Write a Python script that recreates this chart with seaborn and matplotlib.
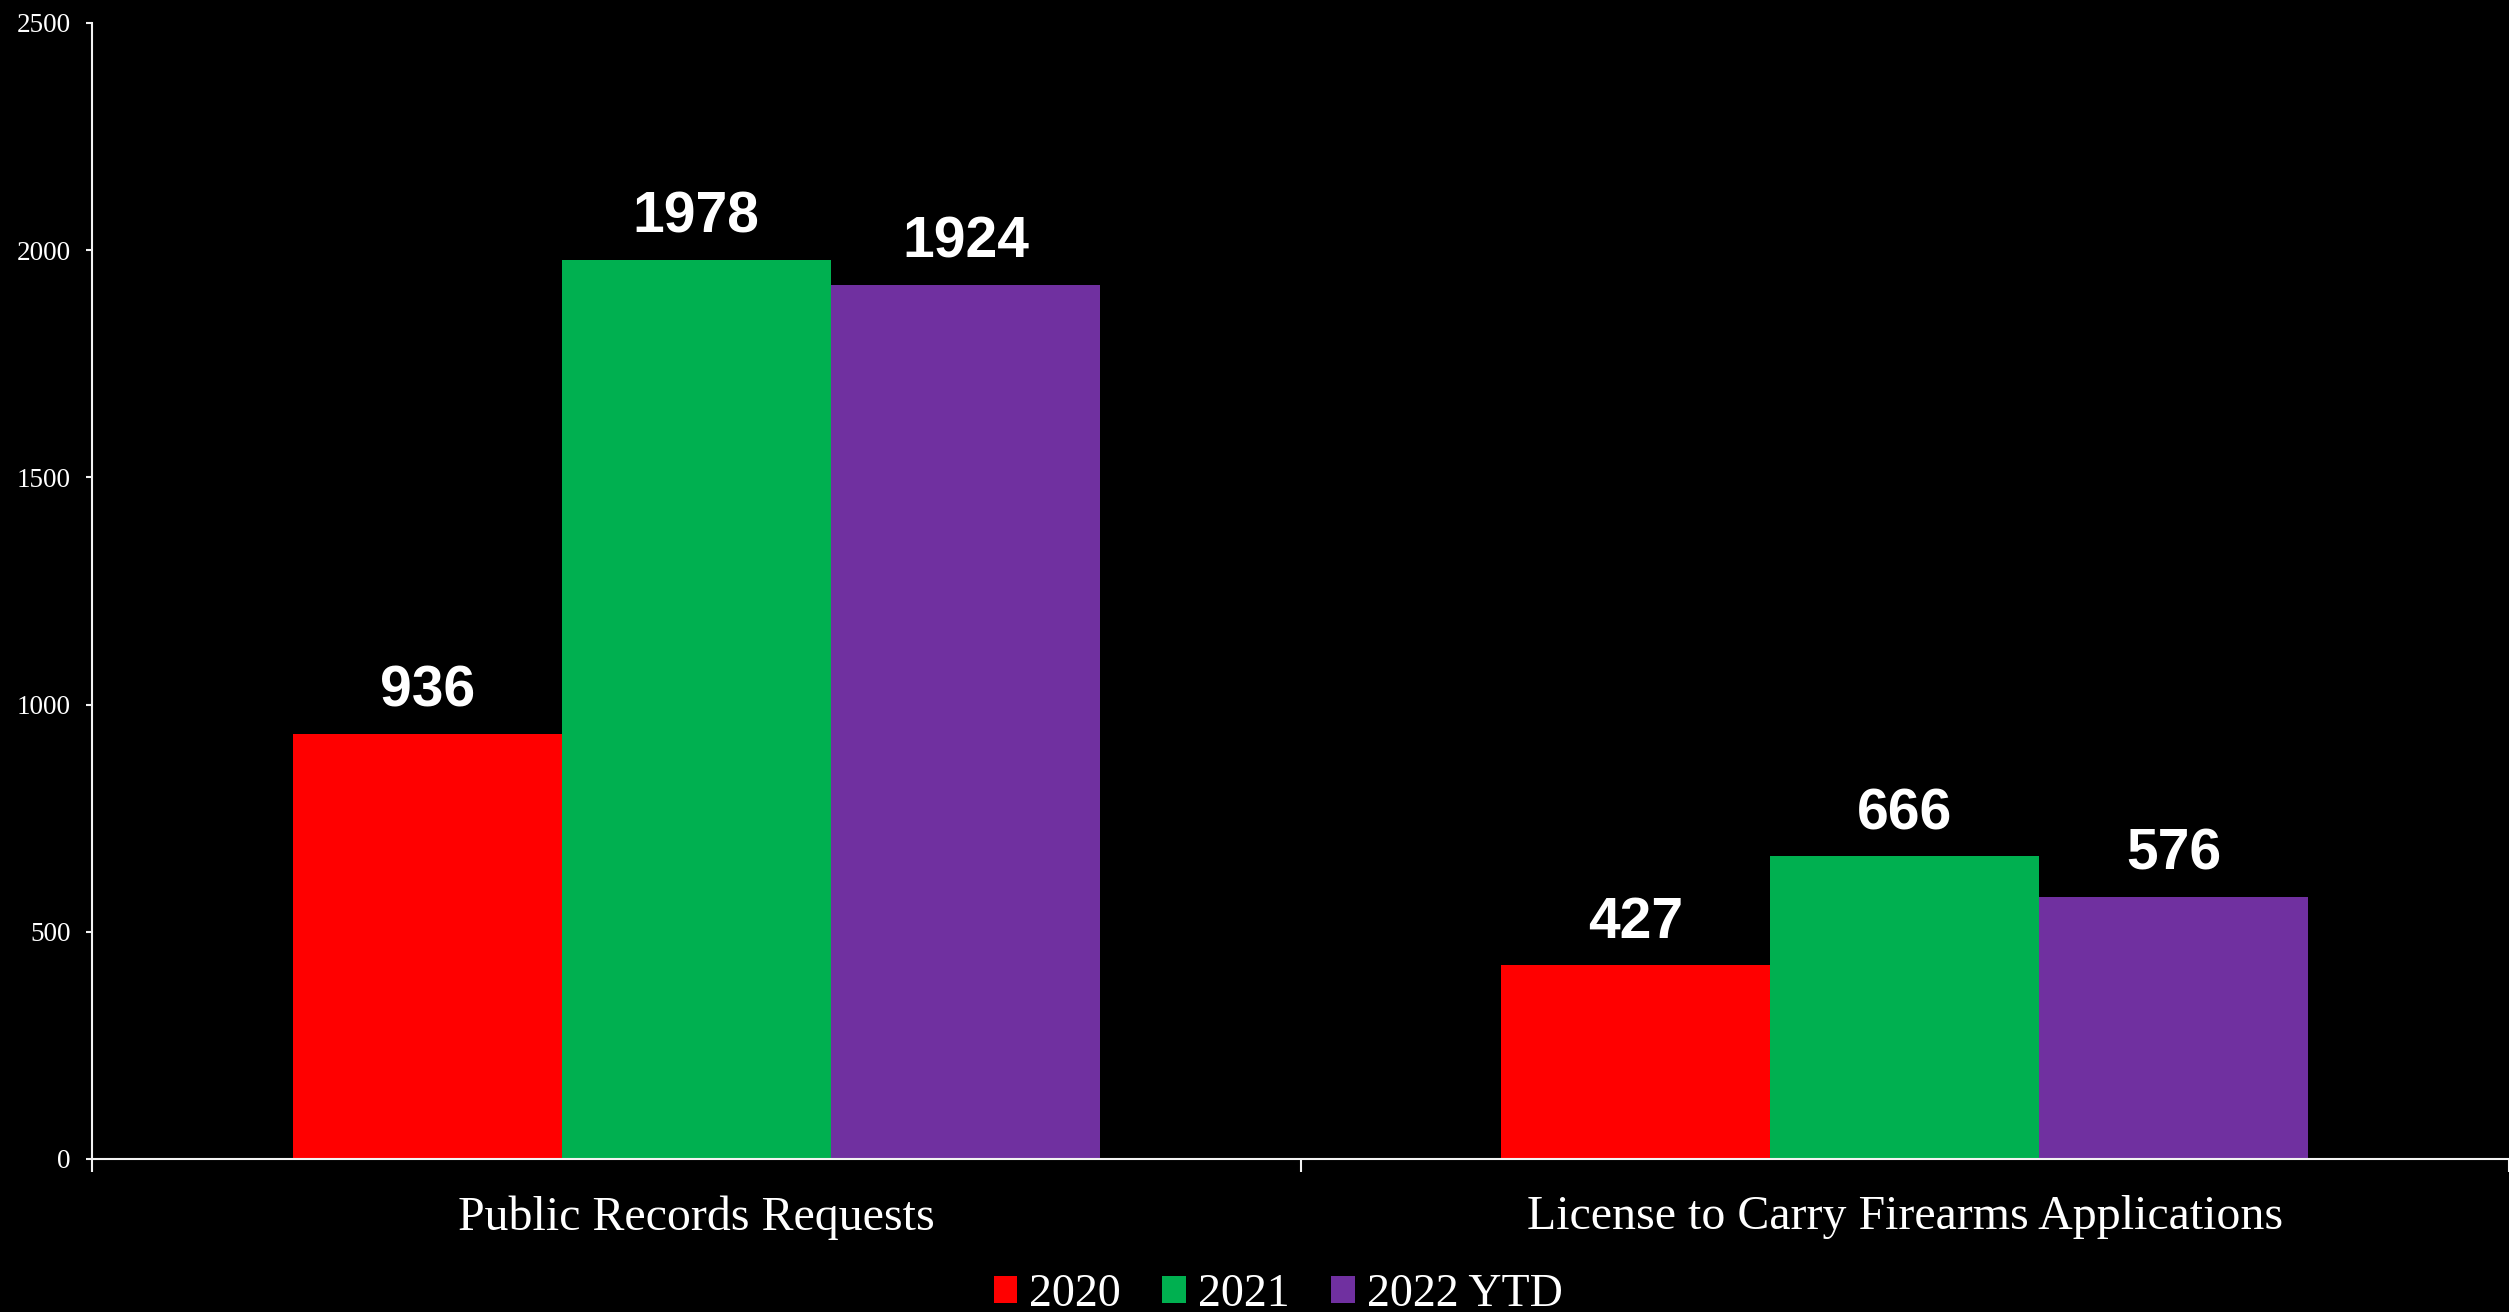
import matplotlib
matplotlib.use("Agg")
import matplotlib.pyplot as plt
import seaborn as sns
import pandas as pd

# Request counts by category and year
categories = ["Public Records Requests", "License to Carry Firearms Applications"]
years = ["2020", "2021", "2022 YTD"]
values_2020 = [936, 427]
values_2021 = [1978, 666]
values_2022 = [1924, 576]
year_colors = ["#FF0000", "#00B050", "#7030A0"]
y_ticks = [0, 500, 1000, 1500, 2000, 2500]

df = pd.DataFrame({
    "category": categories * 3,
    "year": [y for y in years for _ in categories],
    "value": values_2020 + values_2021 + values_2022,
})

sns.set_theme(style="white")
plt.rcParams["font.family"] = ["Liberation Serif", "DejaVu Serif"]

W, H = 2509, 1312
fig = plt.figure(figsize=(W / 100, H / 100), dpi=100, facecolor="black")
ax = fig.add_axes([92 / W, 1 - 1159 / H, 1 - 92 / W, (1159 - 23) / H])
ax.set_facecolor("black")

sns.barplot(data=df, x="category", y="value", hue="year", order=categories,
            hue_order=years, palette=year_colors, saturation=1, width=0.668,
            gap=0, errorbar=None, linewidth=0, ax=ax)

for cont in ax.containers:
    ax.bar_label(cont, labels=[f"{b.get_height():.0f}" for b in cont],
                 padding=11, color="white", fontsize=41, fontweight="bold",
                 family="Liberation Sans")

ax.set_xlim(-0.5, 1.5)
ax.set_ylim(0, 2500)
ax.set_yticks(y_ticks)
ax.set_yticklabels([str(t) for t in y_ticks])
ax.set_xlabel("")
ax.set_ylabel("")

axis_col = "#F2F2F2"
for side in ["top", "right"]:
    ax.spines[side].set_visible(False)
for side in ["left", "bottom"]:
    ax.spines[side].set_color(axis_col)
    ax.spines[side].set_linewidth(1.5)

ax.tick_params(axis="y", which="major", direction="out", length=4.5, width=1.5,
               color=axis_col, labelcolor="white", labelsize=19.5, pad=11, left=True)
ax.tick_params(axis="x", which="major", length=0, labelcolor="white",
               labelsize=34.5, pad=26)
ax.set_xticks([-0.5, 0.5, 1.5], minor=True)
ax.tick_params(axis="x", which="minor", direction="out", length=9.5, width=1.5,
               color=axis_col, bottom=True)

handles, labels = ax.get_legend_handles_labels()
ax.get_legend().remove()
leg = fig.legend(handles, labels, loc="lower center", bbox_to_anchor=(1278 / W, -0.01),
                 ncol=3, frameon=False, fontsize=33, handlelength=0.52,
                 handleheight=0.52, handletextpad=0.26, columnspacing=0.9,
                 labelcolor="white", borderaxespad=0, borderpad=0.2)

fig.savefig("out.png", dpi=100, facecolor="black")
